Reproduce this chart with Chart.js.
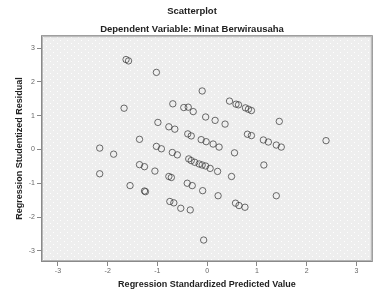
<!DOCTYPE html>
<html>
<head>
<meta charset="utf-8">
<script src="https://cdn.jsdelivr.net/npm/chart.js@4.4.0/dist/chart.umd.min.js"></script>
<style>
    html, body { margin: 0; padding: 0; background: #fff; }
</style>
</head>
<body>
<canvas id="myChart" width="377" height="294"></canvas>
<script>
// values
const predicted = [
    -1.63, -1.58, -1.02, -0.10, -1.67, -0.69, -0.47, -0.38, -0.28, 0.45,
    0.58, 0.63, 0.77, 0.83, 0.89, 1.45, -0.99, -0.77, -0.65, -0.03,
    0.16, 0.36, -1.36, -0.39, -0.32, -0.12, -0.02, 0.12, 0.24, 0.81,
    0.89, 0.55, 1.13, 1.23, 1.39, 1.49, 2.39, -2.16, -1.88, -1.02,
    -0.92, -0.70, -0.60, -1.36, -1.26, -1.05, -0.37, -0.32, -0.25, -0.16,
    -0.10, -0.03, 0.06, 0.21, -0.77, -0.72, 0.49, 1.14, -2.16, -1.55,
    -1.26, -1.24, -0.40, -0.30, -0.09, 0.22, -0.75, -0.67, -0.53, -0.34,
    0.57, 0.64, 0.76, 1.39, -0.07
];
const residual = [
    2.66, 2.62, 2.28, 1.73, 1.22, 1.35, 1.24, 1.25, 1.12, 1.43,
    1.34, 1.32, 1.23, 1.19, 1.15, 0.83, 0.80, 0.67, 0.60, 0.96,
    0.86, 0.75, 0.30, 0.46, 0.40, 0.29, 0.23, 0.16, 0.07, 0.45,
    0.41, -0.10, 0.28, 0.22, 0.13, 0.07, 0.26, 0.04, -0.14, 0.09,
    0.02, -0.09, -0.16, -0.45, -0.51, -0.64, -0.28, -0.33, -0.38, -0.43,
    -0.46, -0.49, -0.56, -0.65, -0.80, -0.83, -0.80, -0.46, -0.72, -1.07,
    -1.23, -1.25, -1.00, -1.07, -1.22, -1.37, -1.54, -1.58, -1.74, -1.79,
    -1.59, -1.66, -1.71, -1.37, -2.68
];
const xTicks = [-3, -2, -1, 0, 1, 2, 3];
const yTicks = [-3, -2, -1, 0, 1, 2, 3];

const fontFamily = "Arial, 'Liberation Sans', sans-serif";

// grey plot background with small white dots, and the frame round it
const plotFrame = {
    id: 'plotFrame',
    beforeDraw(chart) {
        const ctx = chart.ctx;
        const a = chart.chartArea;
        ctx.save();
        ctx.fillStyle = '#eeeeee';
        ctx.fillRect(a.left, a.top, a.right - a.left, a.bottom - a.top);
        const tile = document.createElement('canvas');
        tile.width = 7;
        tile.height = 6;
        const t = tile.getContext('2d');
        t.fillStyle = '#ffffff';
        t.fillRect(1, 1, 1, 1);
        t.fillRect(4, 4, 1, 1);
        ctx.fillStyle = ctx.createPattern(tile, 'repeat');
        ctx.fillRect(a.left, a.top, a.right - a.left, a.bottom - a.top);
        ctx.restore();
    },
    afterDraw(chart) {
        const ctx = chart.ctx;
        const a = chart.chartArea;
        ctx.save();
        ctx.strokeStyle = '#8a8a8a';
        ctx.lineWidth = 1;
        ctx.strokeRect(a.left + 0.5, a.top + 0.5, a.right - a.left - 1, a.bottom - a.top - 1);
        ctx.strokeStyle = '#b5b5b5';
        ctx.strokeRect(a.left + 1.5, a.top + 1.5, a.right - a.left - 3, a.bottom - a.top - 3);
        ctx.restore();
    }
};

const points = predicted.map((x, i) => ({ x: x, y: residual[i] }));

const ctx = document.getElementById('myChart').getContext('2d');
const myChart = new Chart(ctx, {
    type: 'scatter',
    data: {
        datasets: [{
            data: points,
            pointRadius: 3.2,
            pointBorderWidth: 1,
            borderColor: 'rgba(60, 60, 60, 0.75)',
            backgroundColor: 'rgba(0, 0, 0, 0)',
            pointHoverRadius: 3.2
        }]
    },
    options: {
        responsive: false,
        animation: false,
        devicePixelRatio: 1,
        layout: {
            padding: { left: 9, right: 2, top: 0, bottom: 0 }
        },
        plugins: {
            legend: { display: false },
            tooltip: { enabled: false },
            title: {
                display: true,
                text: 'Scatterplot',
                color: '#222',
                font: { family: fontFamily, size: 9.5, weight: 'bold' },
                padding: { top: 6, bottom: 5 }
            },
            subtitle: {
                display: true,
                text: 'Dependent Variable: Minat Berwirausaha',
                color: '#222',
                font: { family: fontFamily, size: 9.5, weight: 'bold' },
                padding: { top: 1.4, bottom: 0 }
            }
        },
        scales: {
            x: {
                type: 'linear',
                min: -3.34,
                max: 3.33,
                afterBuildTicks: s => { s.ticks = xTicks.map(v => ({ value: v })); },
                afterFit: s => { s.height = 32; },
                grid: { drawOnChartArea: false, drawTicks: true, tickLength: 4, color: '#888' },
                border: { display: false },
                ticks: { color: '#666', padding: 1, font: { family: fontFamily, size: 7 } },
                title: {
                    display: true,
                    text: 'Regression Standardized Predicted Value',
                    color: '#222',
                    font: { family: fontFamily, size: 9, weight: 'bold' },
                    padding: { top: 0, bottom: 3.6 }
                }
            },
            y: {
                type: 'linear',
                min: -3.33,
                max: 3.38,
                afterBuildTicks: s => { s.ticks = yTicks.map(v => ({ value: v })); },
                afterFit: s => { s.width = 32; },
                grid: { drawOnChartArea: false, drawTicks: true, tickLength: 4, color: '#888' },
                border: { display: false },
                ticks: { color: '#666', padding: 2, font: { family: fontFamily, size: 7 } },
                title: {
                    display: true,
                    text: 'Regression Studentized Residual',
                    color: '#222',
                    font: { family: fontFamily, size: 9, weight: 'bold' },
                    padding: { top: 5.6, bottom: 0 }
                }
            }
        }
    },
    plugins: [plotFrame]
});
</script>
</body>
</html>
